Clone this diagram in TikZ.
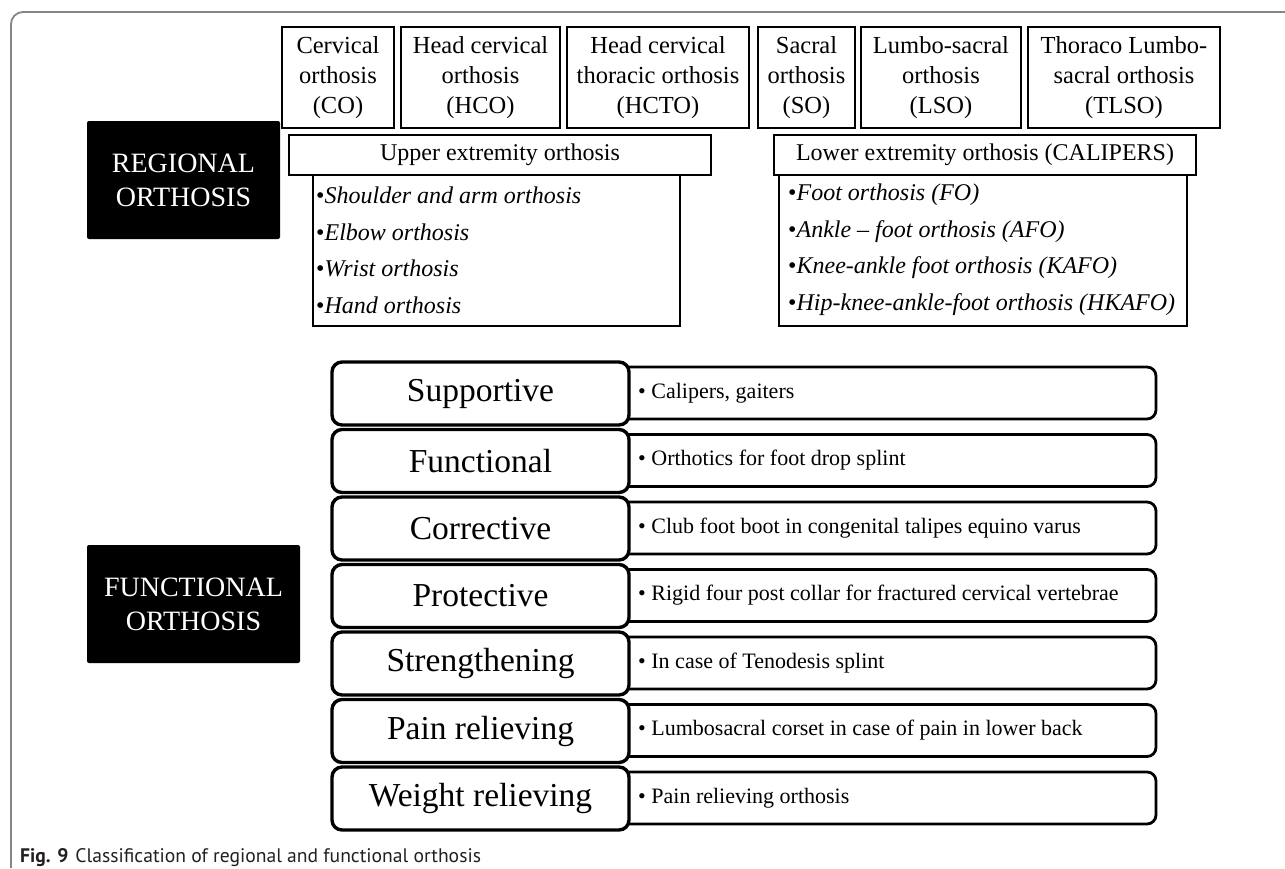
\documentclass[tikz,border=0pt]{standalone}
\usepackage{fontspec}
\setmainfont{Liberation Serif}
\newfontfamily\capfont{PT Sans}
\definecolor{framegray}{HTML}{858585}
\definecolor{captext}{HTML}{231F20}
\begin{document}
\begin{tikzpicture}[x=1pt,y=-1pt,
  topbox/.style={draw, line width=2.8pt, inner sep=0pt, align=center, font=\fontsize{24.5}{30}\selectfont},
  blackbox/.style={fill=black, text=white, rounded corners=2pt, inner sep=0pt, align=center, font=\fontsize{28}{34}\selectfont},
  hdrbox/.style={draw, fill=white, line width=2.8pt, inner sep=0pt, font=\fontsize{24}{30}\selectfont},
  listbox/.style={draw, line width=2.8pt, inner sep=0pt},
  item/.style={anchor=west, inner sep=0pt, font=\fontsize{24}{30}\selectfont},
  catbox/.style={draw, fill=white, line width=3.4pt, rounded corners=10pt, inner sep=0pt, font=\fontsize{33.5}{36}\selectfont},
  descbox/.style={draw, line width=2.8pt, rounded corners=9pt, inner sep=0pt},
  desctext/.style={anchor=west, inner sep=0pt, font=\fontsize{22}{24}\selectfont}
]
\useasboundingbox (0,0) rectangle (1285,868);
% outer frame
\draw[framegray, line width=1.8pt, rounded corners=12pt] (11,868) -- (11,12) -- (1285,12);

% top row of regional boxes
\node[topbox, minimum width=112, minimum height=101] (co) at (338,77.5) {Cervical\\orthosis\\(CO)};
\node[topbox, minimum width=159, minimum height=101] (hco) at (480.5,77.5) {Head cervical\\orthosis\\(HCO)};
\node[topbox, minimum width=182, minimum height=101] (hcto) at (658,77.5) {Head cervical\\thoracic orthosis\\(HCTO)};
\node[topbox, minimum width=97, minimum height=101] (so) at (806.5,77.5) {Sacral\\orthosis\\(SO)};
\node[topbox, minimum width=160, minimum height=101] (lso) at (941,77.5) {Lumbo-sacral\\orthosis\\(LSO)};
\node[topbox, minimum width=192, minimum height=101] (tlso) at (1124,77.5) {Thoraco Lumbo-\\sacral orthosis\\(TLSO)};

% regional label
\node[blackbox, minimum width=193, minimum height=118] (reg) at (183.5,180) {REGIONAL\\ORTHOSIS};

% upper extremity
\node[listbox, minimum width=367, minimum height=151] (ulist) at (496.5,250.5) {};
\node[hdrbox, minimum width=422, minimum height=40] (uhdr) at (500,155) {Upper extremity orthosis};
\node[item] (u1) at (316,195) {\textbullet\textit{Shoulder and arm orthosis}};
\node[item] (u2) at (316,232) {\textbullet\textit{Elbow orthosis}};
\node[item] (u3) at (316,268) {\textbullet\textit{Wrist orthosis}};
\node[item] (u4) at (316,305) {\textbullet\textit{Hand orthosis}};

% lower extremity
\node[listbox, minimum width=408, minimum height=151] (llist) at (983,250.5) {};
\node[hdrbox, minimum width=422, minimum height=40] (lhdr) at (985,155) {Lower extremity orthosis (CALIPERS)};
\node[item] (l1) at (788,195) {\textbullet\textit{Foot orthosis (FO)}};
\node[item] (l2) at (788,232) {\textbullet\textit{Ankle -- foot orthosis (AFO)}};
\node[item] (l3) at (788,268) {\textbullet\textit{Knee-ankle foot orthosis (KAFO)}};
\node[item] (l4) at (788,305) {\textbullet\textit{Hip-knee-ankle-foot orthosis (HKAFO)}};

% functional label
\node[blackbox, minimum width=213, minimum height=118] (func) at (193.5,604) {FUNCTIONAL\\ORTHOSIS};

% functional rows
\foreach \lab/\dtext [count=\k from 0] in {
  {Supportive}/{Calipers, gaiters},
  {Functional}/{Orthotics for foot drop splint},
  {Corrective}/{Club foot boot in congenital talipes equino varus},
  {Protective}/{Rigid four post collar for fractured cervical vertebrae},
  {Strengthening}/{In case of Tenodesis splint},
  {Pain relieving}/{Lumbosacral corset in case of pain in lower back},
  {Weight relieving}/{Pain relieving orthosis}} {
  \pgfmathsetmacro\yt{362+67.5*\k}
  \node[descbox, minimum width=536, minimum height=52] (desc\k) at (888,\yt+31) {};
  \node[catbox, minimum width=297, minimum height=63] (cat\k) at (480.5,\yt+31.5) {\lab};
  \node[desctext] (dtx\k) at (638,\yt+31) {\textbullet\ \dtext};
}

% caption
\node[anchor=base west, inner sep=0pt, text=captext, font=\capfont\fontsize{19.6}{22}\selectfont] (cap) at (20,862)
  {\textbf{Fig. 9}\hspace{7pt}Classification of regional and functional orthosis};
\end{tikzpicture}
\end{document}
